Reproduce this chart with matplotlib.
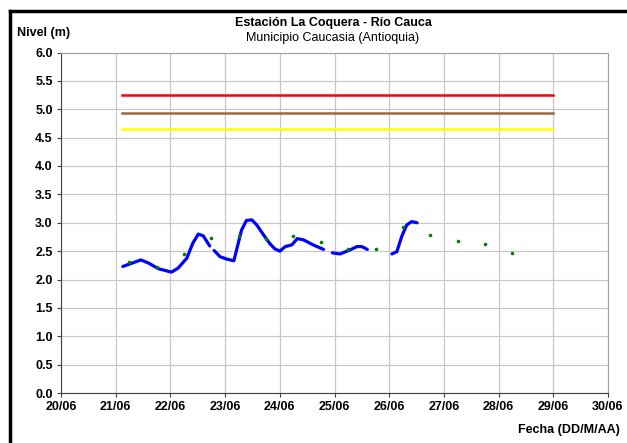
import matplotlib
matplotlib.use("Agg")
import matplotlib.pyplot as plt
from matplotlib.lines import Line2D
import numpy as np

plt.rcParams['font.family'] = ['Liberation Sans', 'DejaVu Sans']

# Blue level series (day of June, level m); separate segments for gaps
seg1_x = [21.13, 21.26, 21.46, 21.60, 21.78, 21.90, 22.02, 22.14, 22.30, 22.41, 22.51, 22.60, 22.72]
seg1_y = [2.23, 2.275, 2.345, 2.29, 2.19, 2.16, 2.13, 2.20, 2.375, 2.64, 2.80, 2.77, 2.59]
seg2_x = [22.80, 22.91, 23.03, 23.16, 23.21, 23.30, 23.39, 23.49, 23.58, 23.70, 23.82, 23.91, 24.00,
          24.10, 24.22, 24.32, 24.43, 24.61, 24.80]
seg2_y = [2.51, 2.40, 2.36, 2.33, 2.52, 2.87, 3.04, 3.05, 2.96, 2.79, 2.63, 2.54, 2.50,
          2.58, 2.61, 2.72, 2.70, 2.61, 2.53]
seg3_x = [24.96, 25.10, 25.28, 25.41, 25.50, 25.60]
seg3_y = [2.47, 2.45, 2.52, 2.58, 2.58, 2.53]
seg4_x = [26.05, 26.14, 26.23, 26.32, 26.41, 26.51]
seg4_y = [2.45, 2.49, 2.76, 2.96, 3.02, 3.00]

# Green points
pts_x = [21.25, 21.75, 22.25, 22.75, 23.25, 23.75, 24.25, 24.75, 25.25, 25.75, 26.25, 26.75, 27.25, 27.75, 28.25]
pts_y = [2.30, 2.22, 2.45, 2.73, 2.77, 2.71, 2.76, 2.66, 2.53, 2.53, 2.93, 2.79, 2.67, 2.63, 2.47]

# Threshold levels
thr_x = [21.12, 29.0]
thr_red = 5.25
thr_brown = 4.94
thr_yellow = 4.66

xticks = list(range(20, 31))
xlabels = [f"{d}/06" for d in xticks]
yticks = np.arange(0, 6.01, 0.5)

fig = plt.figure(figsize=(6.27, 4.43), dpi=100)
ax = fig.add_axes([61/627, 1-393/443, (608-61)/627, (393-52.5)/443])

ax.plot(thr_x, [thr_red]*2, color='#ff0000', lw=1.8, zorder=3)
ax.plot(thr_x, [thr_brown]*2, color='#a0673a', lw=1.8, zorder=3)
ax.plot(thr_x, [thr_yellow]*2, color='#ffff00', lw=1.8, zorder=3)

for sx, sy in [(seg1_x, seg1_y), (seg2_x, seg2_y), (seg3_x, seg3_y), (seg4_x, seg4_y)]:
    ax.plot(sx, sy, color='#0000ff', lw=2.3, solid_capstyle='round', zorder=4)

ax.plot(pts_x, pts_y, 'o', color='#008000', ms=2.6, mec='none', zorder=5)

ax.set_xlim(20, 30)
ax.set_ylim(0, 6)
ax.set_xticks(xticks)
ax.set_xticklabels(xlabels, fontweight='bold', fontsize=9)
ax.set_yticks(yticks)
ax.set_yticklabels([f"{v:.1f}" for v in yticks], fontweight='bold', fontsize=9)
ax.grid(True, color='#c8c8c8', lw=0.9)
ax.set_axisbelow(True)
for s in ['top', 'right']:
    ax.spines[s].set_color('#a0a0a0')
for s in ['left', 'bottom']:
    ax.spines[s].set_color('#404040')
ax.tick_params(direction='out', length=3, color='#404040', pad=3)

fig.text(333/627, 1-23/443, "Estación La Coquera - Río Cauca", ha='center', va='center',
         fontweight='bold', fontsize=9)
fig.text(333/627, 1-38/443, "Municipio Caucasia (Antioquia)", ha='center', va='center', fontsize=9)
fig.text(17/627, 1-33/443, "Nivel (m)", ha='left', va='center', fontweight='bold', fontsize=9)
fig.text(620/627, 1-430/443, "Fecha (DD/M/AA)", ha='right', va='center', fontweight='bold', fontsize=9)

fig.add_artist(Line2D([9.5/627, 9.5/627], [0, 1-10.5/443], transform=fig.transFigure, color='black', lw=2.5))
fig.add_artist(Line2D([9.5/627, 1], [1-10.5/443, 1-10.5/443], transform=fig.transFigure, color='black', lw=2.5))

fig.savefig("out.png", dpi=100)
